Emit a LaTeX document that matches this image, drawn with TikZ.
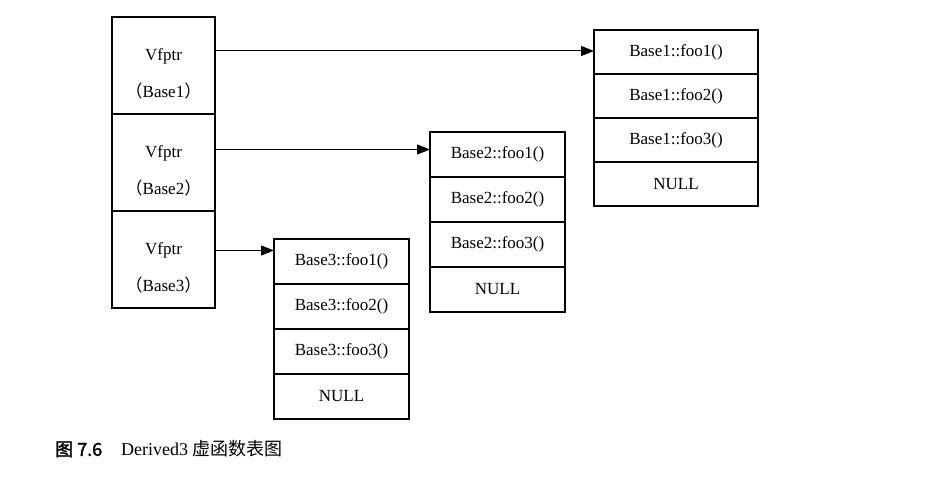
\documentclass[tikz,border=0pt]{standalone}
\usepackage{fontspec}
\setmainfont{Liberation Serif}
\newfontfamily\cjk[AutoFakeBold=2]{Noto Sans CJK SC}
\usetikzlibrary{positioning,arrows.meta}
\tikzset{
  vbox/.style={draw, line width=1.2pt, minimum width=103pt, minimum height=97pt,
    inner sep=0pt, outer sep=0pt, align=center},
  slot/.style={draw, line width=1.2pt, minimum height=45pt, inner sep=0pt, outer sep=0pt},
  vptr/.style={line width=1pt, -{Triangle[length=13pt,width=10pt]}}
}
\begin{document}
\begin{tikzpicture}[x=1pt,y=-1pt,font=\fontsize{17}{20}\selectfont]
      \useasboundingbox (0,0) rectangle (950,489);
      % vfptr column
      \node[vbox] (v1) at (163.5,65.5) {\rule{0pt}{29pt}Vfptr\\[17pt]{\cjk （}Base1{\cjk ）}};
      \node[vbox, below=0pt of v1] (v2) {\rule{0pt}{29pt}Vfptr\\[17pt]{\cjk （}Base2{\cjk ）}};
      \node[vbox, below=0pt of v2] (v3) {\rule{0pt}{29pt}Vfptr\\[17pt]{\cjk （}Base3{\cjk ）}};
      % virtual tables
      \node[slot, minimum width=164pt, minimum height=44pt, anchor=north west] (t1a) at (594,30) {Base1::foo1()};
      \node[slot, minimum width=164pt, minimum height=44pt, below=0pt of t1a] (t1b) {Base1::foo2()};
      \node[slot, minimum width=164pt, minimum height=44pt, below=0pt of t1b] (t1c) {Base1::foo3()};
      \node[slot, minimum width=164pt, minimum height=44pt, below=0pt of t1c] (t1d) {NULL};
      \node[slot, minimum width=135pt, anchor=north west] (t2a) at (430,132) {Base2::foo1()};
      \node[slot, minimum width=135pt, below=0pt of t2a] (t2b) {Base2::foo2()};
      \node[slot, minimum width=135pt, below=0pt of t2b] (t2c) {Base2::foo3()};
      \node[slot, minimum width=135pt, below=0pt of t2c] (t2d) {NULL};
      \node[slot, minimum width=135pt, anchor=north west] (t3a) at (274,239) {Base3::foo1()};
      \node[slot, minimum width=135pt, below=0pt of t3a] (t3b) {Base3::foo2()};
      \node[slot, minimum width=135pt, below=0pt of t3b] (t3c) {Base3::foo3()};
      \node[slot, minimum width=135pt, below=0pt of t3c] (t3d) {NULL};
      % pointers
      \coordinate (e1) at ([yshift=1pt]t1a.west);
      \coordinate (e2) at ([yshift=5pt]t2a.west);
      \coordinate (e3) at ([yshift=11pt]t3a.west);
      \draw[vptr] (v1.east |- e1) -- (e1);
      \draw[vptr] (v2.east |- e2) -- (e2);
      \draw[vptr] (v3.east |- e3) -- (e3);
      % caption
      \node[anchor=west, inner sep=0pt, font=\fontsize{18}{21}\selectfont] (cap) at (55,449)
        {{\cjk\bfseries 图 7.6}\hspace{19pt}Derived3 {\cjk 虚函数表图}};
\end{tikzpicture}
\end{document}
